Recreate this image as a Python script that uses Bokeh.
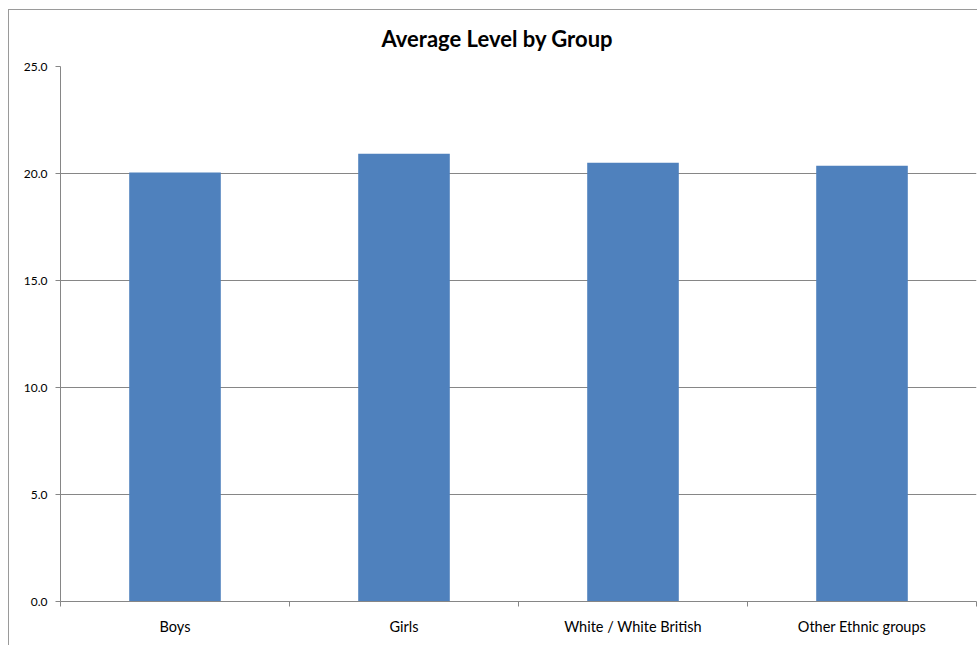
from bokeh.plotting import figure
from bokeh.models import Range1d, FixedTicker, NumeralTickFormatter
from bokeh.embed import file_html
from bokeh.resources import INLINE

title_text = "Average Level by Group"
categories = ["Boys", "Girls", "White / White British", "Other Ethnic groups"]
values = [20.05, 20.92, 20.50, 20.36]
y_ticks = [0, 5, 10, 15, 20, 25]

xs = [i + 0.5 for i in range(len(categories))]

GRID = "#868686"
FONT = "Lato"

p = figure(width=969, height=636, output_backend="svg", toolbar_location=None,
           x_range=Range1d(0, len(categories)), y_range=Range1d(0, 25),
           margin=(9, 0, 0, 8),
           min_border_left=51, min_border_right=2, min_border_top=56, min_border_bottom=45,
           title=title_text)
p.styles = {"border-left": "1px solid #9a9a9a", "border-top": "1px solid #9a9a9a"}

p.title.align = "left"
p.title.vertical_align = "middle"
p.title.offset = 321
p.title.standoff = 27
p.title.text_font = FONT
p.title.text_font_size = "22px"
p.title.text_font_style = "bold"
p.title.text_color = "black"

p.vbar(x=xs, top=values, width=0.4, fill_color="#4F81BD", line_color=None)

p.outline_line_color = None
p.xgrid.grid_line_color = None
p.ygrid.grid_line_color = GRID
p.ygrid.ticker = FixedTicker(ticks=y_ticks)

p.yaxis.ticker = FixedTicker(ticks=y_ticks)
p.yaxis.formatter = NumeralTickFormatter(format="0.0")
p.yaxis.axis_line_color = GRID
p.yaxis.major_tick_line_color = GRID
p.yaxis.major_tick_out = 5
p.yaxis.major_tick_in = 0
p.yaxis.minor_tick_line_color = None
p.yaxis.major_label_text_font = FONT
p.yaxis.major_label_text_font_size = "12px"
p.yaxis.major_label_text_color = "black"
p.yaxis.major_label_standoff = 8

p.xaxis.ticker = FixedTicker(ticks=xs, minor_ticks=list(range(len(categories) + 1)))
p.xaxis.major_label_overrides = {x: c for x, c in zip(xs, categories)}
p.xaxis.axis_line_color = GRID
p.xaxis.major_tick_line_color = None
p.xaxis.major_tick_out = 0
p.xaxis.major_tick_in = 0
p.xaxis.minor_tick_line_color = GRID
p.xaxis.minor_tick_out = 5
p.xaxis.minor_tick_in = 0
p.xaxis.major_label_text_font = FONT
p.xaxis.major_label_text_font_size = "14.5px"
p.xaxis.major_label_text_color = "black"
p.xaxis.major_label_standoff = 11

open("out.html", "w").write(file_html(p, INLINE))
